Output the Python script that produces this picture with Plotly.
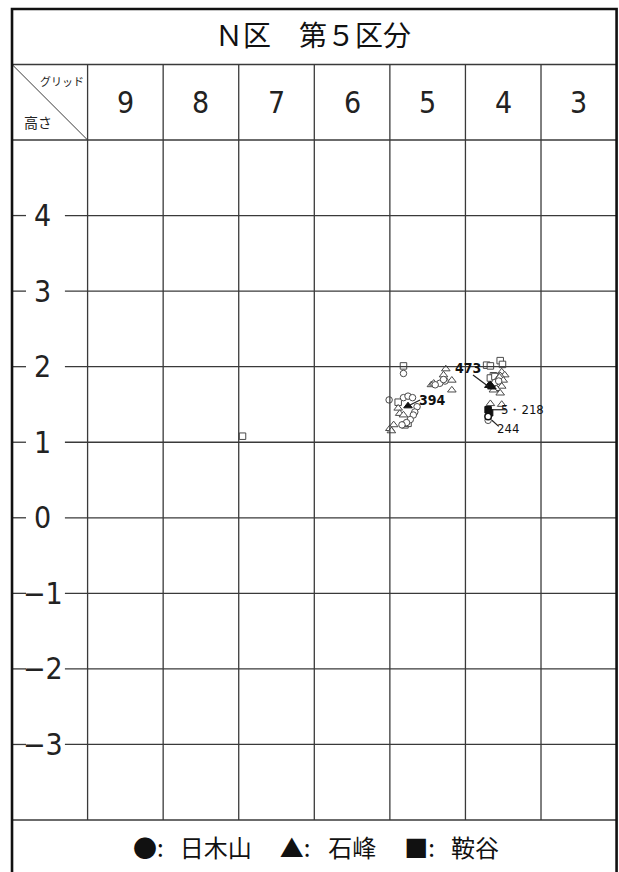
import plotly.graph_objects as go

# ---------------- data ----------------
grid_cols = [9, 8, 7, 6, 5, 4, 3]
height_ticks = [4, 3, 2, 1, 0, -1, -2, -3]
height_labels = ["4", "3", "2", "1", "0", "−1", "−2", "−3"]

# 日木山 (circles) - open
circ_x = [5.32, 5.51, 5.32, 5.26, 5.20, 5.14, 5.17, 5.19, 5.23, 5.28, 5.34,
          4.77, 4.84, 4.90, 4.79, 4.09, 4.11, 4.06, 4.20]
circ_y = [1.91, 1.56, 1.59, 1.61, 1.59, 1.47, 1.40, 1.36, 1.30, 1.26, 1.23,
          1.81, 1.78, 1.76, 1.83, 1.80, 1.79, 1.81, 1.29]
# 日木山 - highlighted
circ_f_x = [4.20]
circ_f_y = [1.34]

# 石峰 (triangles) - open
tri_x = [4.76, 4.79, 4.68, 4.95, 4.92, 4.68, 5.39, 5.37, 5.32, 5.45, 5.50, 5.48,
         4.02, 3.98, 4.04, 4.05, 4.06, 4.02, 4.09, 4.04, 4.13, 4.17, 4.02, 4.00]
tri_y = [1.97, 1.89, 1.82, 1.76, 1.78, 1.69, 1.45, 1.38, 1.36, 1.23, 1.18, 1.15,
         1.93, 1.89, 1.88, 1.86, 1.76, 1.74, 1.71, 1.65, 1.69, 1.51, 1.50, 1.82]
# 石峰 - highlighted
tri_f_x = [5.26, 4.17, 4.15, 4.19]
tri_f_y = [1.48, 1.76, 1.73, 1.75]

# 鞍谷 (squares) - open
sq_x = [5.32, 5.39, 5.30, 5.26, 4.22, 4.17, 4.04, 4.01, 4.13, 4.17, 4.11, 7.45]
sq_y = [2.01, 1.53, 1.23, 1.25, 2.02, 2.01, 2.08, 2.03, 1.88, 1.85, 1.87, 1.08]
# 鞍谷 - highlighted
sq_f_x = [4.20, 4.18]
sq_f_y = [1.43, 1.39]

# numbered finds: label, label position, leader line start / end
find_labels = ["394", "473", "5・218", "244"]
find_bold = [True, True, False, False]
find_lx = [4.93, 4.47, 3.74, 3.94]
find_ly = [1.56, 1.98, 1.43, 1.18]
lead_x0 = [5.24, 4.40, 4.15, 4.15]
lead_y0 = [1.49, 1.89, 1.43, 1.29]
lead_x1 = [5.10, 4.20, 3.96, 4.06]
lead_y1 = [1.56, 1.74, 1.43, 1.21]

title_text = "Ｎ区　第５区分"
legend_text = "●:\u2002\u2006日木山\u3000\u2006▲:\u2002\u2005石峰\u3000\u2006■:\u2002\u2006鞍谷"

# ---------------- figure ----------------
JP = "Noto Sans CJK JP, sans-serif"
NARROW = "Liberation Sans Narrow, DejaVu Sans Condensed, Arial Narrow, sans-serif"
LINE = "#3a3a3a"

X_L, X_R = 10.5, 2.5      # table frame (grid units)
Y_TOP, Y_HEAD, Y_PLOT_T, Y_PLOT_B = 6.734, 6.0, 5.0, -4.0

fig = go.Figure()

shapes = []
# vertical grid lines
for c in grid_cols:
    xv = c + 0.5
    shapes.append(dict(type="line", x0=xv, x1=xv, y0=Y_PLOT_B, y1=Y_HEAD,
                       line=dict(color=LINE, width=1.3)))
# horizontal height lines (gap around the label)
for h in height_ticks:
    shapes.append(dict(type="line", x0=X_L, x1=10.315, y0=h, y1=h,
                       line=dict(color=LINE, width=1.3)))
    shapes.append(dict(type="line", x0=9.80, x1=X_R, y0=h, y1=h,
                       line=dict(color=LINE, width=1.3)))
# row separators
for yv in [Y_HEAD, Y_PLOT_T, Y_PLOT_B]:
    shapes.append(dict(type="line", x0=X_L, x1=X_R, y0=yv, y1=yv,
                       line=dict(color=LINE, width=1.5)))
# diagonal in the corner cell
shapes.append(dict(type="line", x0=X_L, y0=Y_HEAD, x1=9.5, y1=Y_PLOT_T,
                   line=dict(color=LINE, width=1)))
# outer frame
shapes.append(dict(type="rect", x0=X_L, x1=X_R, y0=-5.2, y1=Y_TOP,
                   line=dict(color="#111", width=2.6)))
fig.update_layout(shapes=shapes)

mk_line = dict(color="#4a4a4a", width=1)
fig.add_trace(go.Scatter(x=sq_x, y=sq_y, mode="markers",
                         marker=dict(symbol="square", size=6.5, color="white", line=mk_line)))
fig.add_trace(go.Scatter(x=tri_x, y=tri_y, mode="markers",
                         marker=dict(symbol="triangle-up", size=7.5, color="white", line=mk_line)))
fig.add_trace(go.Scatter(x=circ_x, y=circ_y, mode="markers",
                         marker=dict(symbol="circle", size=6.5, color="white", line=mk_line)))
fig.add_trace(go.Scatter(x=sq_f_x, y=sq_f_y, mode="markers",
                         marker=dict(symbol="square", size=6.5, color="#111", line=dict(color="#111", width=1))))
fig.add_trace(go.Scatter(x=tri_f_x, y=tri_f_y, mode="markers",
                         marker=dict(symbol="triangle-up", size=7.5, color="#111", line=dict(color="#111", width=1))))
fig.add_trace(go.Scatter(x=circ_f_x, y=circ_f_y, mode="markers",
                         marker=dict(symbol="circle", size=6.5, color="white", line=dict(color="#111", width=1.5))))

# leader lines
for i in range(len(find_labels)):
    fig.add_trace(go.Scatter(x=[lead_x0[i], lead_x1[i]], y=[lead_y0[i], lead_y1[i]],
                             mode="lines", line=dict(color="#222", width=1.2)))

annotations = []
for i, t in enumerate(find_labels):
    txt = f"<b>{t}</b>" if find_bold[i] else t
    annotations.append(dict(x=find_lx[i], y=find_ly[i], text=txt, showarrow=False,
                            font=dict(family=NARROW, size=14 if find_bold[i] else 13, color="#111")))
# column headers
for c in grid_cols:
    annotations.append(dict(x=c, y=5.5, text=str(c), showarrow=False,
                            font=dict(family=NARROW, size=30, color="#222")))
# height labels
for h, lab in zip(height_ticks, height_labels):
    annotations.append(dict(x=10.096, y=h, text=lab, showarrow=False,
                            font=dict(family=NARROW, size=30, color="#222")))
# corner cell texts
annotations.append(dict(x=9.845, y=5.78, text="グリッド", showarrow=False,
                        font=dict(family=JP, size=11, color="#222")))
annotations.append(dict(x=10.16, y=5.24, text="高さ", showarrow=False,
                        font=dict(family=JP, size=14, color="#222")))
# title
annotations.append(dict(x=6.52, y=6.40, text=title_text, showarrow=False,
                        font=dict(family=JP, size=28, color="#111")))
# legend row
annotations.append(dict(x=6.48, y=-4.344, text=legend_text, showarrow=False,
                        font=dict(family=JP, size=24, color="#111")))
fig.update_layout(annotations=annotations)

fig.update_layout(
    width=619, height=872,
    margin=dict(l=0, r=0, t=0, b=0),
    paper_bgcolor="white", plot_bgcolor="white",
    showlegend=False,
    hovermode=False,
    xaxis=dict(range=[10.659, 2.468], visible=False, fixedrange=True),
    yaxis=dict(range=[-4.688, 6.853], visible=False, fixedrange=True),
)

# remove the default 8px page margin so the figure fills the window exactly
fig.write_html("out.html",
               config={"displayModeBar": False, "staticPlot": True},
               post_script="document.body.style.margin='0';document.body.style.overflow='hidden';")
